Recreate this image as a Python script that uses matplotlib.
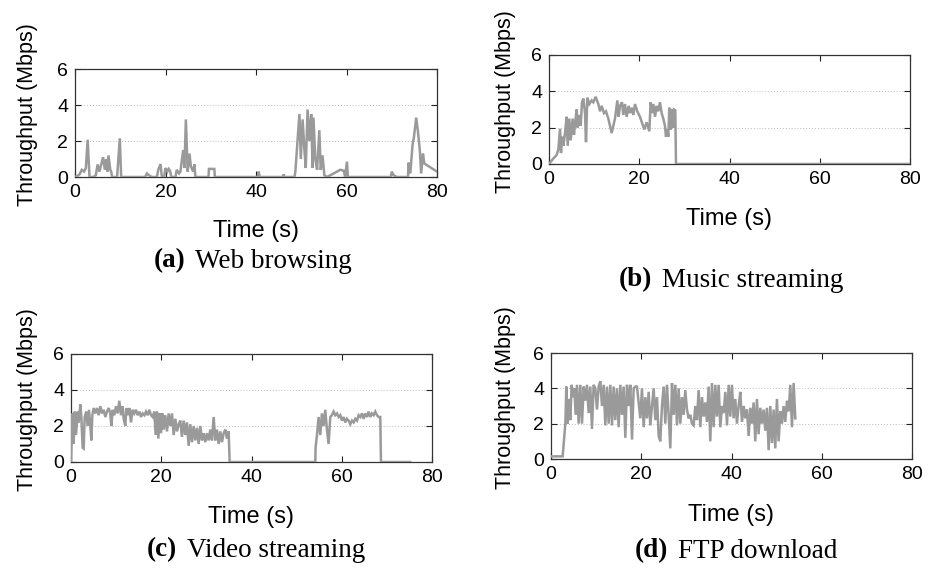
import matplotlib
matplotlib.use("Agg")
import matplotlib.pyplot as plt
from matplotlib import font_manager
from matplotlib.offsetbox import AnnotationBbox, HPacker, TextArea


def pick_font(names):
    for name in names:
        try:
            font_manager.findfont(name, fallback_to_default=False)
            return name
        except Exception:
            continue
    return "DejaVu Sans"


SANS = pick_font(["Liberation Sans", "Arial", "DejaVu Sans"])
SERIF = pick_font(["Liberation Serif", "DejaVu Serif"])

# (a) Web browsing
web_t = [0, 0.5, 1.0, 1.5, 2.0, 2.4, 2.8, 3.2, 4.1, 4.6, 5.0, 5.4, 6.2, 6.6, 6.9, 7.2, 7.4, 7.8,
         8.0, 8.2, 9.3, 9.9, 10.2, 15.5, 15.9, 16.3, 16.6, 17.0, 18.1, 18.4, 18.9, 19.2, 19.7,
         20.0, 20.4, 20.7, 21.0, 21.3, 22.2, 22.5, 23.0, 23.3, 23.9, 24.2, 24.5, 24.9, 25.3,
         25.6, 26.1, 26.4, 26.6, 29.5, 29.6, 30.8, 30.9, 40.4, 40.6, 40.8, 46.0, 46.1, 46.3,
         48.5, 48.7, 49.2, 49.6, 49.9, 50.3, 50.7, 51.0, 51.4, 51.8, 52.2, 52.5, 52.7, 53.1,
         53.5, 54.0, 54.3, 54.7, 55.1, 55.7, 57.2, 58.6, 59.4, 59.7, 60.1, 60.3, 69.8, 70.0,
         70.4, 71.1, 73.6, 73.7, 74.1, 74.6, 74.9, 75.4, 75.8, 76.2, 76.5, 76.9, 77.2, 80.0]
web_v = [0, 0.05, 0.15, 0.4, 0.3, 0.5, 2.07, 0, 0, 0.1, 0.7, 0.3, 1.1, 0.4, 1.0, 0.3, 1.2, 0.4,
         0.3, 0, 0, 2.15, 0, 0, 0.2, 0.1, 0.05, 0, 0, 0.4, 0.72, 0, 0,
         0.5, 0.3, 0.45, 0.35, 0, 0, 0.4, 0.2, 0.3, 1.5, 0.5, 3.2, 0.3, 1.3,
         0.6, 0.3, 0.7, 0, 0, 0.45, 0.45, 0, 0, 0.3, 0, 0, 0.15, 0,
         0, 0.3, 2.1, 3.5, 1.0, 3.2, 1.5, 0.5, 3.75, 2.0, 3.5, 0.5, 3.3, 1.0,
         0.4, 2.6, 0.4, 1.2, 0.1, 0, 0.2, 0.4, 0.35, 0, 0.85, 0, 0, 0.3,
         0.1, 0, 0, 0.8, 0.2, 1.8, 2.2, 3.3, 2.5, 1.5, 0.2, 1.3, 0.75, 0.3]

# (b) Music streaming
music_t = [0, 0.96, 1.7, 2.07, 2.44, 2.66, 2.95, 3.18, 3.55, 3.91, 4.14, 4.5, 4.8, 5.24, 5.54,
           5.76, 6.13, 6.35, 6.72, 7.02, 7.31, 7.61, 7.98, 8.2, 8.49, 8.94, 9.45, 9.82, 10.34,
           10.93, 11.3, 11.67, 12.19, 12.63, 13.15, 13.88, 14.62, 15.14, 15.44, 15.73, 16.17,
           16.47, 16.84, 17.21, 17.65, 17.95, 18.32, 18.69, 19.05, 19.57, 20.16, 21.12, 21.64,
           22.23, 22.53, 22.82, 23.12, 23.49, 23.86, 24.22, 24.59, 24.96, 25.33, 25.7, 25.92,
           26.22, 26.44, 26.66, 26.96, 27.18, 27.47, 27.7, 27.99, 28.14, 80.0]
music_v = [0, 0.3, 0.5, 0.8, 1.94, 0.6, 1.5, 1.0, 1.7, 2.6, 1.0, 2.5, 1.3, 2.5, 1.6,
           2.2, 3.0, 2.0, 2.7, 2.1, 3.4, 3.6, 2.8, 1.2, 3.65, 3.3, 3.5, 3.4, 3.7,
           3.3, 2.9, 3.2, 2.8, 2.9, 2.5, 1.7, 2.5, 3.5, 2.6, 3.2, 3.4,
           2.7, 3.3, 2.6, 3.2, 2.8, 3.1, 2.7, 3.3, 2.9, 2.6, 1.9, 2.3,
           1.8, 3.4, 2.8, 3.3, 2.6, 3.2, 2.9, 3.4, 2.8, 2.5, 2.1, 1.5,
           1.9, 1.5, 3.1, 1.9, 3.0, 2.0, 3.0, 2.95, 0, 0]

# (c) Video streaming
video_t = [0, 0.37, 0.59, 0.81, 1.11, 1.48, 1.7, 2.07, 2.29, 2.58, 2.81, 3.03, 3.4, 3.69, 3.99,
           4.28, 4.51, 4.73, 5.02, 5.39, 5.76, 6.13, 6.5, 6.87, 7.24, 7.61, 7.98, 8.35, 8.71,
           8.94, 9.23, 9.6, 9.97, 10.34, 10.71, 11.08, 11.45, 11.67, 12.04, 12.26, 12.63,
           12.92, 13.29, 13.66, 14.03, 14.4, 14.77, 15.14, 15.51, 15.88, 16.25, 16.62, 16.99,
           17.36, 17.73, 18.09, 18.46, 18.76, 19.05, 19.35, 19.65, 19.94, 20.24, 20.53, 20.9,
           21.27, 21.64, 22.01, 22.38, 22.75, 23.12, 23.49, 23.86, 24.22, 24.59, 24.96, 25.33,
           25.7, 26.07, 26.44, 26.81, 27.18, 27.55, 27.92, 28.29, 28.66, 29.03, 29.39, 29.76,
           30.13, 30.5, 30.87, 31.24, 31.61, 31.98, 32.35, 32.72, 33.09, 33.46, 33.83, 34.2,
           34.56, 34.93, 35.16, 54.14, 54.2, 54.51, 54.87, 55.24, 55.61, 55.98, 56.35, 56.72,
           57.09, 57.46, 57.83, 58.2, 58.57, 58.94, 59.31, 59.68, 60.04, 60.41, 60.78, 61.15,
           61.52, 61.89, 62.26, 62.63, 63.0, 63.37, 63.74, 64.11, 64.48, 64.84, 65.21, 65.58,
           65.95, 66.32, 66.69, 67.06, 67.43, 67.8, 68.17, 68.54, 68.69, 75.18]
video_v = [0, 2.7, 1.0, 2.8, 1.5, 2.8, 2.2, 3.2, 2.5, 0.8, 0.75, 2.5, 2.8, 2.0, 2.9,
           2.0, 1.2, 2.6, 3.0, 2.7, 3.0, 2.6, 3.1, 2.7, 2.9, 2.5, 2.8, 3.0, 2.7,
           2.0, 2.9, 2.6, 3.1, 2.7, 3.4, 2.6, 3.1, 2.4, 2.0, 3.0, 2.6,
           3.0, 2.2, 2.9, 2.7, 2.9, 2.6, 2.8, 2.5, 2.7, 2.6, 2.8, 2.6,
           2.9, 2.6, 2.5, 2.8, 1.5, 2.8, 1.3, 2.7, 1.6, 2.7, 1.8, 2.6,
           1.7, 2.7, 2.0, 2.7, 1.5, 2.4, 1.7, 2.1, 2.3, 1.4, 2.3, 1.5,
           2.2, 0.9, 2.1, 1.1, 2.0, 1.2, 1.9, 1.0, 2.0, 1.2, 1.6, 1.1,
           1.6, 1.2, 1.8, 1.2, 2.5, 1.2, 1.8, 1.0, 1.7, 1.1, 1.6, 1.8,
           1.3, 1.7, 0, 0, 0.8, 1.5, 2.5, 1.5, 2.7, 2.0, 2.9, 1.8,
           1.0, 2.5, 2.6, 2.8, 2.6, 2.7, 2.5, 2.6, 2.3, 2.5, 2.2, 2.4,
           2.3, 2.1, 2.3, 2.2, 2.4, 2.3, 2.6, 2.5, 2.7, 2.4, 2.7, 2.5,
           2.8, 2.5, 2.7, 2.6, 2.8, 2.6, 2.5, 2.5, 0, 0]

# (d) FTP download
ftp_t = [0, 2.58, 3.18, 3.4, 3.69, 3.99, 4.28, 4.58, 4.87, 5.17, 5.47, 5.76, 6.13, 6.5, 6.87,
         7.24, 7.61, 7.98, 8.35, 8.71, 9.08, 9.45, 9.82, 10.19, 10.56, 10.93, 11.3, 11.67,
         12.04, 12.41, 12.78, 13.15, 13.52, 13.88, 14.25, 14.62, 14.99, 15.36, 15.73, 16.1,
         16.47, 16.84, 17.21, 17.58, 17.95, 18.32, 18.69, 19.05, 19.42, 19.79, 20.16, 20.53,
         20.9, 21.27, 21.64, 22.01, 22.38, 22.75, 23.12, 23.49, 23.86, 24.22, 24.59, 24.96,
         25.33, 25.7, 26.07, 26.44, 26.81, 27.18, 27.55, 27.92, 28.29, 28.66, 29.03, 29.39,
         29.76, 30.13, 30.5, 30.87, 31.24, 31.61, 31.98, 32.35, 32.72, 33.09, 33.46, 33.83,
         34.2, 34.56, 34.93, 35.3, 35.67, 36.04, 36.41, 36.78, 37.15, 37.52, 37.89, 38.26,
         38.63, 39.0, 39.37, 39.73, 40.1, 40.47, 40.84, 41.21, 41.58, 41.95, 42.32, 42.69,
         43.06, 43.43, 43.8, 44.17, 44.54, 44.9, 45.27, 45.64, 46.01, 46.38, 46.75, 47.12,
         47.49, 47.86, 48.23, 48.6, 48.97, 49.34, 49.7, 50.07, 50.44, 50.81, 51.18, 51.55,
         51.92, 52.29, 52.66, 53.03, 53.4, 53.77, 54.14]
ftp_v = [0.15, 0.15, 2.0, 4.1, 2.0, 3.4, 2.2, 4.2, 3.5, 4.0, 2.5, 4.2, 2.0, 4.2, 2.0,
         4.1, 3.3, 4.2, 2.6, 4.1, 1.7, 4.2, 4.0, 2.8, 4.1, 4.4, 3.0, 4.2,
         1.9, 4.1, 2.0, 4.2, 1.9, 4.1, 2.2, 4.0, 1.8, 4.2, 2.5, 4.1,
         1.2, 4.2, 3.0, 4.2, 1.1, 4.0, 4.1, 4.1, 3.2, 2.3, 4.0, 1.8,
         3.5, 2.3, 3.8, 1.9, 3.0, 4.0, 2.2, 3.5, 1.3, 1.0, 3.0, 4.1,
         2.0, 4.2, 2.5, 0.6, 4.3, 2.5, 4.2, 1.9, 4.0, 2.0, 3.5, 2.5,
         3.9, 2.8, 2.3, 2.5, 2.0, 1.9, 3.0, 2.2, 3.9, 1.8, 3.5, 2.4,
         3.2, 2.1, 4.1, 1.0, 4.3, 1.8, 4.2, 2.4, 4.2, 1.8, 3.0, 2.6,
         3.8, 1.9, 4.2, 2.4, 4.2, 2.3, 3.4, 2.0, 3.0, 3.8, 2.1, 3.0,
         2.3, 2.8, 1.3, 2.9, 2.0, 3.2, 1.0, 3.4, 1.4, 2.9, 2.0, 2.8,
         1.6, 2.9, 0.5, 3.0, 0.9, 2.8, 0.6, 3.4, 1.0, 2.7, 2.0, 3.0,
         2.1, 3.3, 2.7, 4.2, 1.8, 4.3, 2.3]

x_ticks = [0, 20, 40, 60, 80]
y_ticks = [0, 2, 4, 6]

# data, axes box (px), tag, caption, caption centre (px), xlabel y, ylabel x
panels = [
    (web_t, web_v, [75, 69, 437, 177], "(a)", "Web browsing", (253, 261), 231, 28),
    (music_t, music_v, [549, 55, 910, 164], "(b)", "Music streaming", (731, 280), 219, 505),
    (video_t, video_v, [71, 354, 432, 462], "(c)", "Video streaming", (256, 550), 517, 28),
    (ftp_t, ftp_v, [551, 353, 912, 459], "(d)", "FTP download", (736, 551), 515, 505),
]

W, H = 933, 571
fig = plt.figure(figsize=(W / 100, H / 100), dpi=100)

for t, v, box, tag, caption, cap_xy, xl_y, yl_x in panels:
    x0, y0, x1, y1 = box
    ax = fig.add_axes([x0 / W, 1 - y1 / H, (x1 - x0) / W, (y1 - y0) / H])
    ax.plot(t, v, color="#9a9a9a", lw=1.8, solid_joinstyle="miter", zorder=3)
    ax.set_xlim(0, 80)
    ax.set_ylim(0, 6)
    ax.set_xticks(x_ticks)
    ax.set_yticks(y_ticks)
    for y in [2, 4]:
        ax.axhline(y, color="#bbbbbb", lw=0.7, ls=(0, (1, 2)), zorder=1)
    ax.tick_params(direction="in", top=True, right=True, length=4, width=0.8,
                   color="#222222", labelsize=14, pad=5)
    for lab in ax.get_xticklabels() + ax.get_yticklabels():
        lab.set_fontfamily(SANS)
    for sp in ax.spines.values():
        sp.set_linewidth(0.9)
        sp.set_color("#333333")

    fig.text(((x0 + x1) / 2) / W, 1 - xl_y / H, "Time (s)", ha="center", va="center",
             fontsize=17, family=SANS)
    fig.text(yl_x / W, 1 - ((y0 + y1) / 2 - 8) / H, "Throughput (Mbps)", rotation=90,
             ha="center", va="center", fontsize=15.5, family=SANS)

    # caption: bold tag + plain text, centred under the panel
    packed = HPacker(children=[
        TextArea(tag, textprops=dict(fontsize=19.5, family=SERIF, fontweight="bold")),
        TextArea(caption, textprops=dict(fontsize=19.5, family=SERIF)),
    ], sep=7, pad=0, align="baseline")
    ab = AnnotationBbox(packed, (cap_xy[0] / W, 1 - cap_xy[1] / H), xycoords="figure fraction",
                        box_alignment=(0.5, 0.5), frameon=False, pad=0)
    fig.add_artist(ab)

fig.savefig("out.png", dpi=100)
